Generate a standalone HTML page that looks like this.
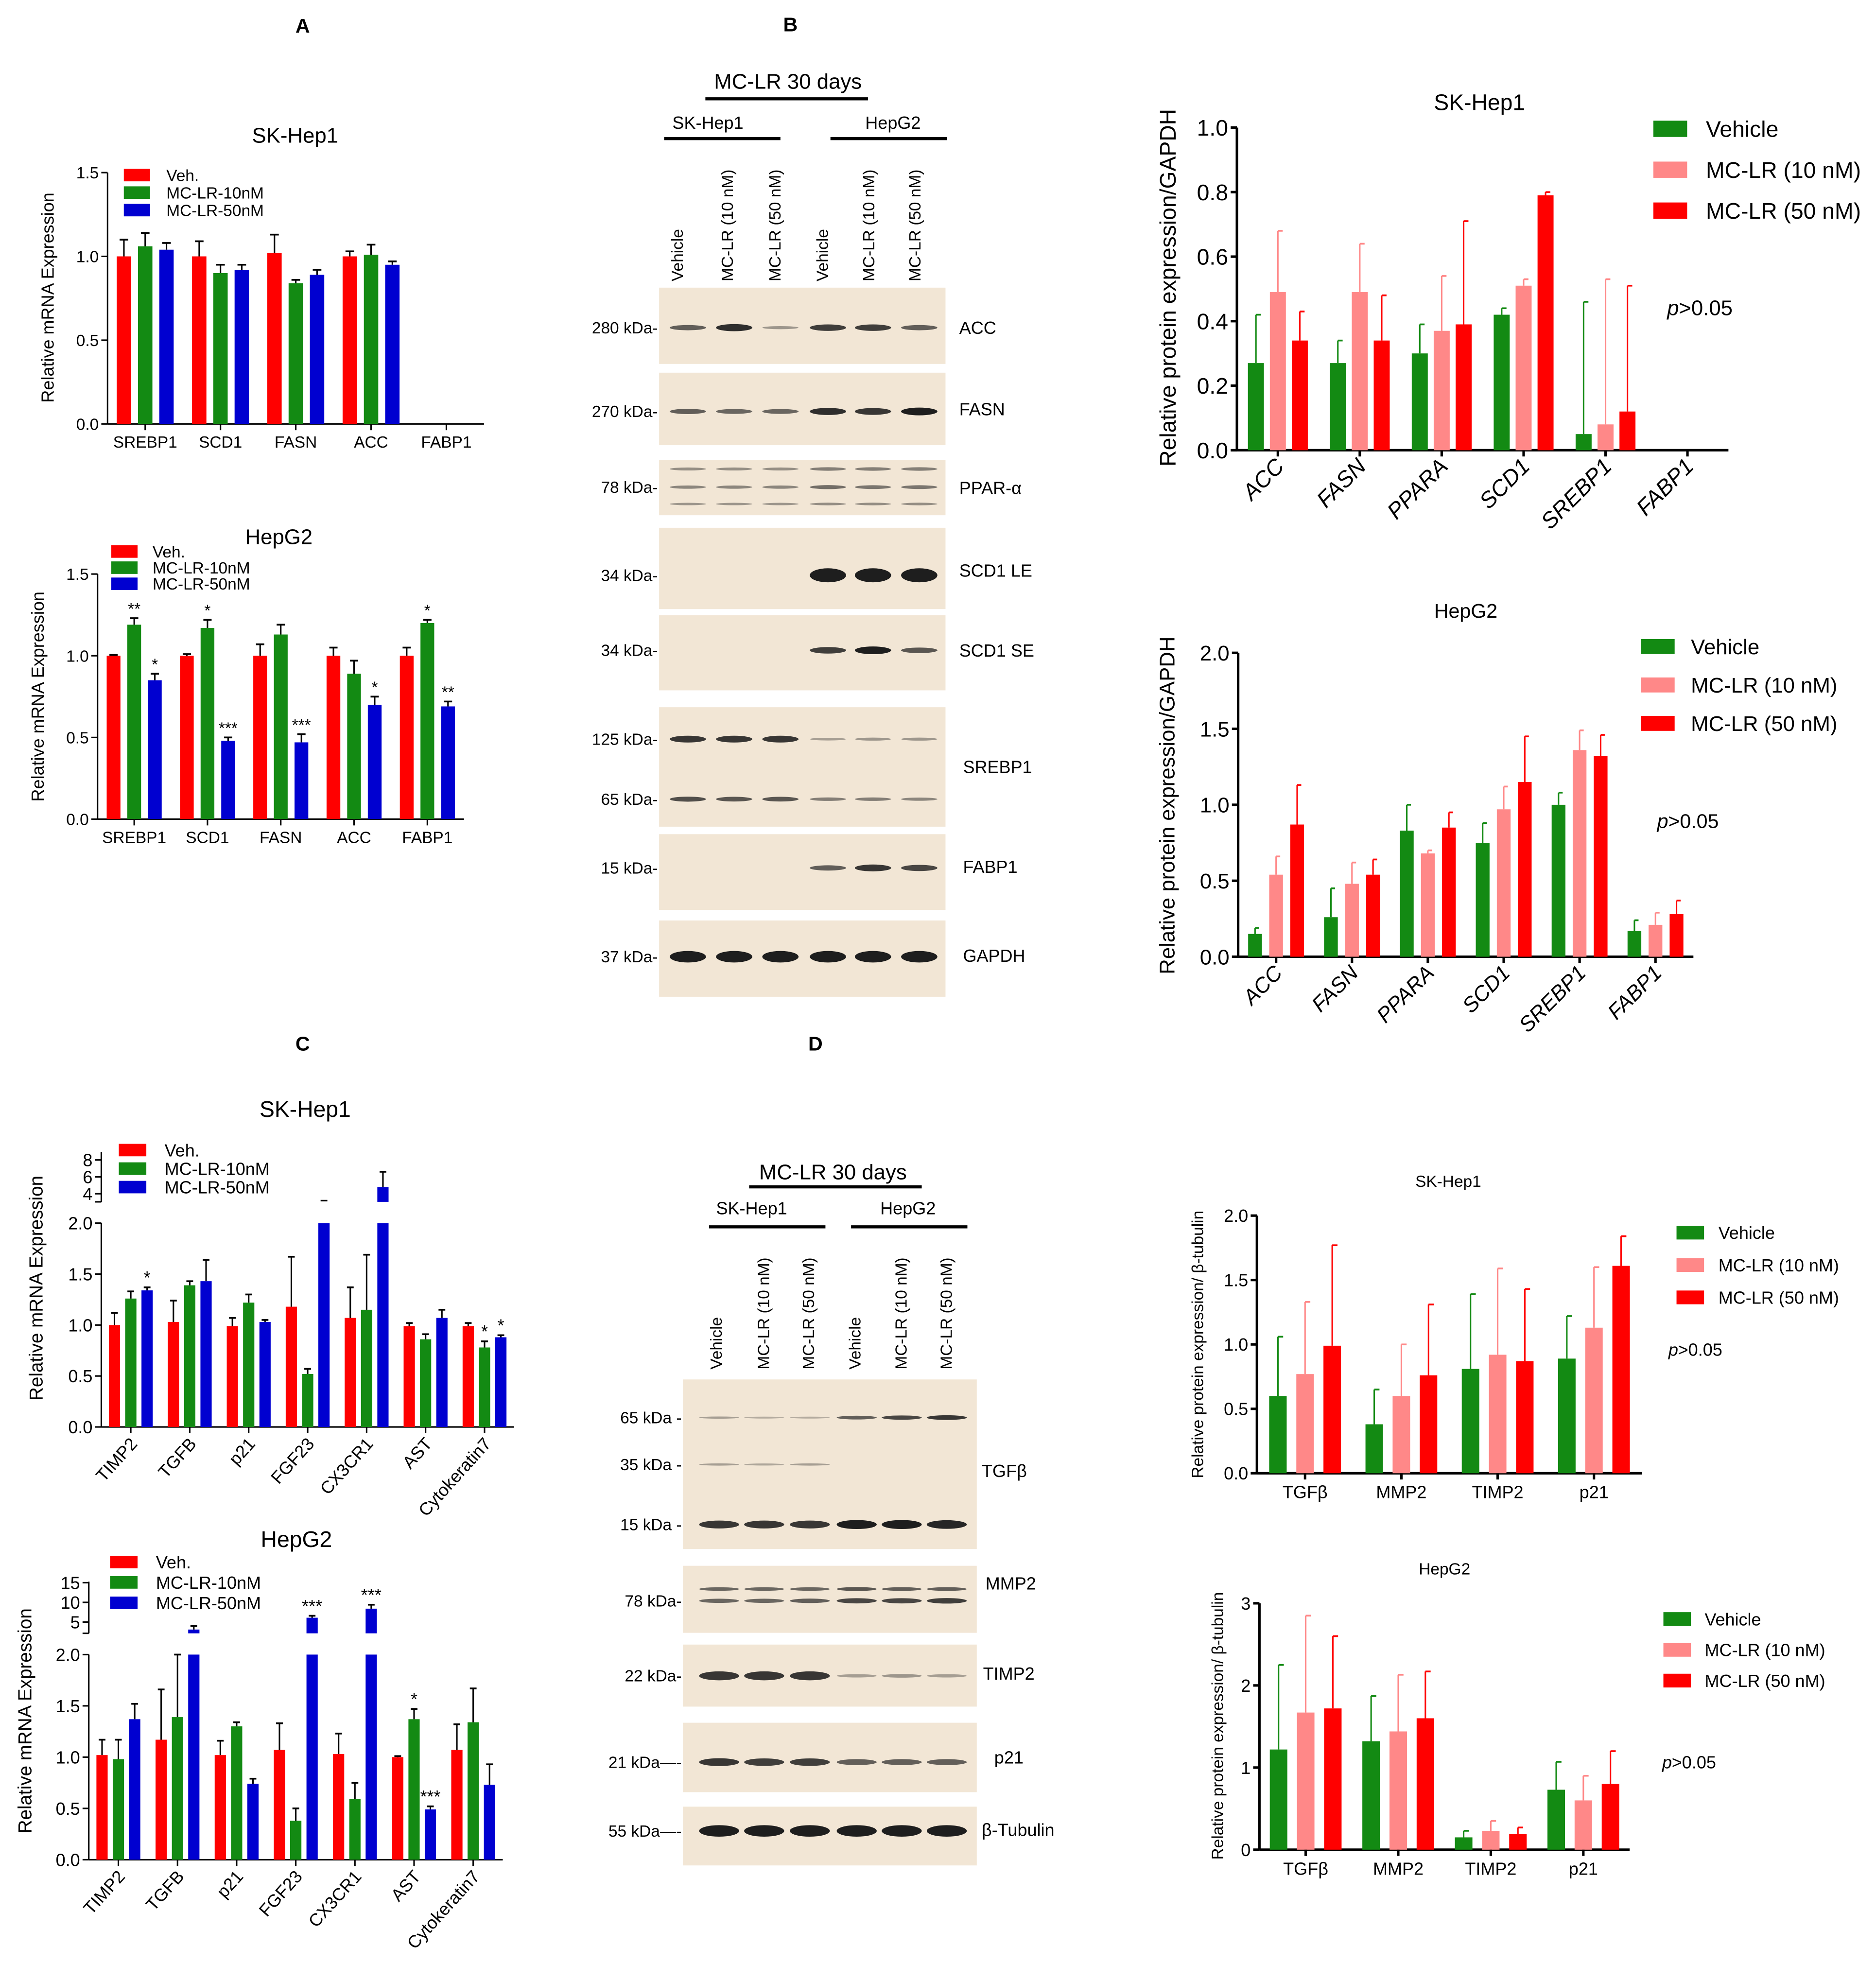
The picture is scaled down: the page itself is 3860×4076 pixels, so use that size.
<!DOCTYPE html>
<html><head><meta charset="utf-8">
<style>
html,body{margin:0;padding:0;background:#fff;}
svg{display:block;font-family:"Liberation Sans",sans-serif;}
</style></head>
<body>
<svg id="fig" width="3860" height="4076" viewBox="0 0 1500 1584" preserveAspectRatio="none" xmlns="http://www.w3.org/2000/svg">
<rect width="1500" height="1584" fill="#fff"/>
<g font-weight="bold" font-size="16">
<text x="242" y="26" text-anchor="middle">A</text>
<text x="632" y="25" text-anchor="middle">B</text>
<text x="242" y="840" text-anchor="middle">C</text>
<text x="652" y="840" text-anchor="middle">D</text>
</g>
<g id="charts"></g>
<g id="blots"></g>
</svg>
<script>
// ---- data ----
const catsA1=["SREBP1","SCD1","FASN","ACC","FABP1"];
const a1Veh=[1.0,1.0,1.02,1.0,0];
const a1M10=[1.06,0.9,0.84,1.01,0];
const a1M50=[1.04,0.92,0.89,0.95,0];
const a1VehErr=[0.1,0.09,0.11,0.03,0];
const a1M10Err=[0.08,0.05,0.02,0.06,0];
const a1M50Err=[0.04,0.03,0.03,0.02,0];
const catsA2=["SREBP1","SCD1","FASN","ACC","FABP1"];
const a2Veh=[1.0,1.0,1.0,1.0,1.0];
const a2M10=[1.19,1.17,1.13,0.89,1.2];
const a2M50=[0.85,0.48,0.47,0.7,0.69];
const a2VehErr=[0.005,0.01,0.07,0.05,0.05];
const a2M10Err=[0.04,0.05,0.06,0.08,0.02];
const a2M50Err=[0.04,0.02,0.05,0.05,0.03];
const a2Stars10=["**","*","","","*"];
const a2Stars50=["*","***","***","*","**"];
const catsB=["ACC","FASN","PPARA","SCD1","SREBP1","FABP1"];
const b1Veh=[0.27,0.27,0.3,0.42,0.05,0];
const b1M10=[0.49,0.49,0.37,0.51,0.08,0];
const b1M50=[0.34,0.34,0.39,0.79,0.12,0];
const b1VehErr=[0.15,0.07,0.09,0.02,0.41,0];
const b1M10Err=[0.19,0.15,0.17,0.02,0.45,0];
const b1M50Err=[0.09,0.14,0.32,0.01,0.39,0];
const b2Veh=[0.15,0.26,0.83,0.75,1.0,0.17];
const b2M10=[0.54,0.48,0.68,0.97,1.36,0.21];
const b2M50=[0.87,0.54,0.85,1.15,1.32,0.28];
const b2VehErr=[0.04,0.19,0.17,0.13,0.08,0.07];
const b2M10Err=[0.12,0.14,0.02,0.15,0.13,0.08];
const b2M50Err=[0.26,0.1,0.1,0.3,0.14,0.09];
const catsC=["TIMP2","TGFB","p21","FGF23","CX3CR1","AST","Cytokeratin7"];
const c1Veh=[1.0,1.03,0.99,1.18,1.07,0.99,0.99];
const c1M10=[1.26,1.39,1.22,0.52,1.15,0.86,0.78];
const c1M50=[1.34,1.43,1.03,2.5,4.8,1.07,0.88];
const c1VehErr=[0.12,0.21,0.08,0.49,0.3,0.03,0.03];
const c1M10Err=[0.07,0.04,0.08,0.05,0.54,0.05,0.06];
const c1M50Err=[0.03,0.21,0.02,0,1.8,0.08,0.02];
const c2Veh=[1.02,1.17,1.02,1.07,1.03,1.0,1.07];
const c2M10=[0.98,1.39,1.3,0.38,0.59,1.37,1.34];
const c2M50=[1.37,3.1,0.74,6.1,8.4,0.49,0.73];
const c2VehErr=[0.15,0.49,0.14,0.26,0.2,0.01,0.25];
const c2M10Err=[0.19,0.65,0.04,0.12,0.16,0.1,0.33];
const c2M50Err=[0.15,0.9,0.05,0.5,1.0,0.03,0.2];
const catsD=["TGFβ","MMP2","TIMP2","p21"];
const d1Veh=[0.6,0.38,0.81,0.89];
const d1M10=[0.77,0.6,0.92,1.13];
const d1M50=[0.99,0.76,0.87,1.61];
const d1VehErr=[0.46,0.27,0.58,0.33];
const d1M10Err=[0.56,0.4,0.67,0.47];
const d1M50Err=[0.78,0.55,0.56,0.23];
const d2Veh=[1.22,1.32,0.15,0.73];
const d2M10=[1.67,1.44,0.23,0.6];
const d2M50=[1.72,1.6,0.19,0.8];
const d2VehErr=[1.03,0.55,0.08,0.34];
const d2M10Err=[1.18,0.69,0.12,0.3];
const d2M50Err=[0.88,0.57,0.08,0.4];

const NS="http://www.w3.org/2000/svg";
const root=document.getElementById('charts');
function el(tag,attrs,parent,text){const e=document.createElementNS(NS,tag);for(const k in attrs)e.setAttribute(k,attrs[k]);if(text!==undefined)e.textContent=text;(parent||root).appendChild(e);return e;}

function chart(o){
  const g=el('g',{});
  
  
  const y=v=>o.y0-(v/o.ymax)*(o.y0-o.ytop);
  const aw=o.aw||1.5;
  el('line',{x1:o.x0,y1:o.ytop,x2:o.x0,y2:o.y0,stroke:'#000','stroke-width':aw},g);
  el('line',{x1:o.x0,y1:o.y0,x2:o.x1,y2:o.y0,stroke:'#000','stroke-width':aw},g);
  o.ticks.forEach(t=>{
    el('line',{x1:o.x0-5,y1:y(t),x2:o.x0,y2:y(t),stroke:'#000','stroke-width':aw},g);
    const tx=el('text',{x:o.x0-7,y:y(t)+o.fs*0.36,'font-size':o.fs,'text-anchor':'end'},g,o.tickFmt?o.tickFmt(t):t.toFixed(1));
    
    
  });
  if(o.upper){
    const u=o.upper;const uy=v=>u.yb-(v-u.vmin)/(u.vmax-u.vmin)*(u.yb-u.yt);
    el('line',{x1:o.x0,y1:u.yt,x2:o.x0,y2:u.yb,stroke:'#000','stroke-width':aw},g);
    el('line',{x1:o.x0-5,y1:u.yb,x2:o.x0,y2:u.yb,stroke:'#000','stroke-width':aw},g);
    u.ticks.forEach(t=>{el('line',{x1:o.x0-5,y1:uy(t),x2:o.x0,y2:uy(t),stroke:'#000','stroke-width':aw},g);
      el('text',{x:o.x0-7,y:uy(t)+o.fs*0.36,'font-size':o.fs,'text-anchor':'end'},g,String(t));});
    o.uy=uy;
  }
  const yl=el('text',{transform:`translate(${o.ylx},${o.yly}) rotate(-90)`,'font-size':o.ylfs||o.fs+1,'text-anchor':'middle'},g,o.ylabel);
  
  
  const t=el('text',{x:o.tx,y:o.ty,'font-size':o.tfs,'text-anchor':'middle'},g,o.title);
  
  
  const n=o.cats.length, step=(o.x1-o.x0)/n;
  o.series.forEach((s,si)=>{
    s.vals.forEach((v,i)=>{
      const cx=o.x0+step*(i+0.5)+(si-1)*o.bw*o.gap;
      const vc=Math.min(v,o.ymax);
      if(v<=0)return;
      const r=el('rect',{x:cx-o.bw/2,y:y(vc),width:o.bw,height:o.y0-y(vc),fill:s.color},g);
      
      
      let top=y(vc);
      const e=s.errs?s.errs[i]:0;
      let et;
      if(o.upper && v>o.ymax){
        if(v>o.upper.vmin){const ut=o.uy(v);el('rect',{x:cx-o.bw/2,y:ut,width:o.bw,height:o.upper.yb-ut,fill:s.color},g);top=ut;et=o.uy(Math.min(v+e,o.upper.vmax));}
        else{const my=o.upper.yb-1;el('line',{x1:cx-o.bw*0.3,y1:my,x2:cx+o.bw*0.3,y2:my,stroke:'#000','stroke-width':1.2},g);et=top;}
      } else et=y(Math.min(v+e,o.ymax));
      if(e>0){
        el('line',{x1:cx,y1:top,x2:cx,y2:et,stroke:o.errBlack?'#000':s.color,'stroke-width':1.2},g);
        el('line',{x1:cx-(o.halfCap?0:o.bw*0.3),y1:et,x2:cx+o.bw*0.3,y2:et,stroke:o.errBlack?'#000':s.color,'stroke-width':1.4},g);
      }
      if(s.stars&&s.stars[i]) el('text',{x:cx,y:Math.min(et,top)-3,'font-size':o.fs,'text-anchor':'middle'},g,s.stars[i]);
    });
  });
  o.cats.forEach((c,i)=>{
    const cx=o.x0+step*(i+0.5);
    el('line',{x1:cx,y1:o.y0,x2:cx,y2:o.y0+5,stroke:'#000','stroke-width':aw},g);
    let tx;
    if(o.rot) tx=el('text',{transform:`translate(${cx+6},${o.y0+14}) rotate(-${o.rot})`,'font-size':o.cfs||o.fs,'text-anchor':'end','font-style':o.italic?'italic':'normal'},g,c);
    else tx=el('text',{x:cx,y:o.y0+o.fs+6,'font-size':o.cfs||o.fs,'text-anchor':'middle'},g,c);
    
    
  });
  o.series.forEach((s,si)=>{
    const ly=o.ly+si*o.lstep;
    el('rect',{x:o.lx,y:ly-o.lh/2,width:o.lw,height:o.lh,fill:s.color},g);
    const lt=el('text',{x:o.ltx,y:ly+o.lfs*0.36,'font-size':o.lfs},g,s.label);
    
    
  });
  if(o.p){el('text',{x:o.p[0],y:o.p[1],'font-size':o.p[2],'font-style':'italic'},g,'p');
    el('text',{x:o.p[0]+o.p[2]*0.55,y:o.p[1],'font-size':o.p[2]},g,'>0.05');}
}
const R='#f00',G='#138a13',B='#0000d0',P='#f88';
const mr=["Veh.","MC-LR-10nM","MC-LR-50nM"], pr=["Vehicle","MC-LR (10 nM)","MC-LR (50 nM)"];
chart({name:'chart-a-skhep1',x0:86,x1:387,y0:339,ytop:138,ymax:1.5,ticks:[0,0.5,1,1.5],fs:13,bw:11.5,gap:1.48,aw:1.2,errBlack:true,
 cats:catsA1,series:[{key:'veh',label:mr[0],color:R,vals:a1Veh,errs:a1VehErr},{key:'10nm',label:mr[1],color:G,vals:a1M10,errs:a1M10Err},{key:'50nm',label:mr[2],color:B,vals:a1M50,errs:a1M50Err}],
 ylabel:'Relative mRNA Expression',ylx:43,yly:238,ylfs:14,title:'SK-Hep1',tx:236,ty:114,tfs:17,lx:99,ltx:133,ly:140,lstep:14,lw:21,lh:10,lfs:13});
chart({name:'chart-a-hepg2',x0:78,x1:371,y0:655,ytop:459,ymax:1.5,ticks:[0,0.5,1,1.5],fs:13,bw:11,gap:1.5,aw:1.2,errBlack:true,
 cats:catsA2,series:[{key:'veh',label:mr[0],color:R,vals:a2Veh,errs:a2VehErr},{key:'10nm',label:mr[1],color:G,vals:a2M10,errs:a2M10Err,stars:a2Stars10},{key:'50nm',label:mr[2],color:B,vals:a2M50,errs:a2M50Err,stars:a2Stars50}],
 ylabel:'Relative mRNA Expression',ylx:35,yly:557,ylfs:14,title:'HepG2',tx:223,ty:435,tfs:17,lx:89,ltx:122,ly:441,lstep:12.9,lw:21,lh:10,lfs:13});
chart({name:'chart-b-skhep1-protein',x0:989,x1:1382,y0:360,ytop:102,ymax:1.0,ticks:[0,0.2,0.4,0.6,0.8,1.0],fs:18,bw:12.8,gap:1.37,rot:45,cfs:18,italic:true,aw:2,
 cats:catsB,series:[{key:'veh',label:pr[0],color:G,vals:b1Veh,errs:b1VehErr},{key:'10nm',label:pr[1],color:P,vals:b1M10,errs:b1M10Err},{key:'50nm',label:pr[2],color:R,vals:b1M50,errs:b1M50Err}],
 ylabel:'Relative protein expression/GAPDH',ylx:940,yly:230,ylfs:18,title:'SK-Hep1',tx:1183,ty:88,tfs:18,lx:1322,ltx:1364,ly:103,lstep:32.7,lw:27,lh:13,lfs:18,halfCap:true,p:[1333,252,17]});
chart({name:'chart-b-hepg2-protein',x0:990,x1:1354,y0:765,ytop:522,ymax:2.0,ticks:[0,0.5,1,1.5,2],fs:17,bw:11,gap:1.53,rot:45,cfs:17,italic:true,aw:2,
 cats:catsB,series:[{key:'veh',label:pr[0],color:G,vals:b2Veh,errs:b2VehErr},{key:'10nm',label:pr[1],color:P,vals:b2M10,errs:b2M10Err},{key:'50nm',label:pr[2],color:R,vals:b2M50,errs:b2M50Err}],
 ylabel:'Relative protein expression/GAPDH',ylx:939,yly:644,ylfs:17,title:'HepG2',tx:1172,ty:494,tfs:16,lx:1312,ltx:1352,ly:517,lstep:30.7,lw:27,lh:12,lfs:17,halfCap:true,tickFmt:t=>t.toFixed(1),p:[1325,662,16]});
chart({name:'chart-c-skhep1',x0:81,x1:411,y0:1141,ytop:978,ymax:2.0,ticks:[0,0.5,1,1.5,2],fs:14,bw:9,gap:1.45,rot:48,cfs:14,aw:1.2,errBlack:true,
 cats:catsC,series:[{key:'veh',label:mr[0],color:R,vals:c1Veh,errs:c1VehErr},{key:'10nm',label:mr[1],color:G,vals:c1M10,errs:c1M10Err,stars:["","","","","","","*"]},{key:'50nm',label:mr[2],color:B,vals:c1M50,errs:c1M50Err,stars:["*","","","","","","*"]}],
 upper:{yt:921,yb:961,vmin:3.04,vmax:8.96,ticks:[4,6,8]},
 ylabel:'Relative mRNA Expression',ylx:34,yly:1030,ylfs:15,title:'SK-Hep1',tx:244,ty:893,tfs:18,lx:95,ltx:131.6,ly:919.6,lstep:14.8,lw:22,lh:10,lfs:14});
chart({name:'chart-c-hepg2',x0:71,x1:402,y0:1487,ytop:1323,ymax:2.0,ticks:[0,0.5,1,1.5,2],fs:14,bw:9,gap:1.45,rot:48,cfs:14,aw:1.2,errBlack:true,
 cats:catsC,series:[{key:'veh',label:mr[0],color:R,vals:c2Veh,errs:c2VehErr},{key:'10nm',label:mr[1],color:G,vals:c2M10,errs:c2M10Err,stars:["","","","","","*",""]},{key:'50nm',label:mr[2],color:B,vals:c2M50,errs:c2M50Err,stars:["","","","***","***","***",""]}],
 upper:{yt:1264.7,yb:1306,vmin:2.14,vmax:15.25,ticks:[5,10,15]},
 ylabel:'Relative mRNA Expression',ylx:25,yly:1376,ylfs:15,title:'HepG2',tx:237,ty:1237,tfs:18,lx:88,ltx:124.7,ly:1249,lstep:16.3,lw:22,lh:10,lfs:14});
chart({name:'chart-d-skhep1-protein',x0:1005,x1:1313,y0:1178,ytop:972,ymax:2.0,ticks:[0,0.5,1,1.5,2],fs:14,bw:14,gap:1.55,aw:2,
 cats:catsD,series:[{key:'veh',label:pr[0],color:G,vals:d1Veh,errs:d1VehErr},{key:'10nm',label:pr[1],color:P,vals:d1M10,errs:d1M10Err},{key:'50nm',label:pr[2],color:R,vals:d1M50,errs:d1M50Err}],
 ylabel:'Relative protein expression/ β-tubulin',ylx:962,yly:1075,ylfs:13,title:'SK-Hep1',tx:1158,ty:949,tfs:13,lx:1340.5,ltx:1374,ly:985.6,lstep:25.9,lw:22,lh:11,lfs:14,halfCap:true,p:[1334,1084,14]});
chart({name:'chart-d-hepg2-protein',x0:1007,x1:1303,y0:1479,ytop:1282,ymax:3,ticks:[0,1,2,3],fs:14,bw:14,gap:1.55,tickFmt:t=>String(t),aw:2,
 cats:catsD,series:[{key:'veh',label:pr[0],color:G,vals:d2Veh,errs:d2VehErr},{key:'10nm',label:pr[1],color:P,vals:d2M10,errs:d2M10Err},{key:'50nm',label:pr[2],color:R,vals:d2M50,errs:d2M50Err}],
 ylabel:'Relative protein expression/ β-tubulin',ylx:978,yly:1380,ylfs:13,title:'HepG2',tx:1155,ty:1259,tfs:13,lx:1330,ltx:1363,ly:1294.6,lstep:24.6,lw:22,lh:11,lfs:14,halfCap:true,p:[1329,1414,14]});

// ---- blots ----
const bl=document.getElementById('blots');
function blot(name,x,y,w,h,lanes,bands,label,lx,ly,rx){
  const g=el('g',{},bl);
  
  
  el('rect',{x:x,y:y,width:w,height:h,fill:'#f2e6d5'},g);
  bands.forEach(b=>{lanes.forEach((lc,i)=>{const s=b.s[i];if(s<=0)return;
    el('ellipse',{cx:lc,cy:b.y,rx:rx,ry:b.h*s/2+0.6,fill:'#1e1e1e','fill-opacity':Math.min(1,0.2+0.8*s)},g);});
    if(b.mw){el('text',{x:x-1,y:b.y+4.5,'font-size':13,'text-anchor':'end'},g,b.mw+'-');}
  });
  el('text',{x:lx,y:ly+5,'font-size':14},g,label);
}
const lB=[550,587,624,662,698,735];
blot('blot-acc',527,230,229,61,lB,[{y:262,h:5,s:[0.6,0.9,0.25,0.8,0.8,0.6],mw:'280 kDa'}],'ACC',767,262,14.5);
blot('blot-fasn',527,298,229,58,lB,[{y:329,h:5,s:[0.6,0.55,0.55,0.9,0.85,1],mw:'270 kDa'}],'FASN',767,327,14.5);
blot('blot-ppar',527,368,229,44,lB,[{y:375,h:4,s:[0.3,0.3,0.3,0.4,0.4,0.4]},{y:389.5,h:4,s:[0.35,0.35,0.35,0.5,0.45,0.45],mw:'78 kDa'},{y:403,h:3,s:[0.25,0.25,0.25,0.3,0.3,0.3]}],'PPAR-α',767,390,14.5);
blot('blot-scd1-le',527,422,229,65,lB,[{y:460,h:10,s:[0,0,0,1,1,1],mw:'34 kDa'}],'SCD1 LE',767,456,14.5);
blot('blot-scd1-se',527,492,229,60,lB,[{y:520,h:5,s:[0,0,0,0.8,1,0.65],mw:'34 kDa'}],'SCD1 SE',767,520,14.5);
blot('blot-srebp1',527,565.5,229,95.5,lB,[{y:591,h:5,s:[0.85,0.85,0.85,0.2,0.25,0.25],mw:'125 kDa'},{y:639,h:4,s:[0.7,0.65,0.65,0.4,0.4,0.35],mw:'65 kDa'}],'SREBP1',770,613,14.5);
blot('blot-fabp1',527,667,229,60.5,lB,[{y:694,h:5,s:[0,0,0,0.6,0.85,0.75],mw:'15 kDa'}],'FABP1',770,693,14.5);
blot('blot-gapdh',527,736,229,61,lB,[{y:765,h:8,s:[1,1,1,1,1,1],mw:'37 kDa'}],'GAPDH',770,764,14.5);
const lD=[575,611,647.5,685,721,757];
blot('blot-tgfb',546,1103,235,135.6,lD,[{y:1133.5,h:3,s:[0.2,0.12,0.12,0.6,0.75,0.85],mw:'65 kDa '},{y:1171,h:3,s:[0.2,0.15,0.2,0,0,0],mw:'35 kDa '},{y:1219,h:6,s:[0.85,0.85,0.85,1,1,0.95],mw:'15 kDa '}],'TGFβ',785,1176,16);
blot('blot-mmp2',546,1252,235,53.6,lD,[{y:1270.6,h:3,s:[0.55,0.55,0.55,0.65,0.6,0.6]},{y:1280,h:4,s:[0.55,0.55,0.6,0.75,0.75,0.8],mw:'78 kDa'}],'MMP2',788,1266,16);
blot('blot-timp2',546,1315,235,49.6,lD,[{y:1340,h:7,s:[0.85,0.85,0.85,0.2,0.25,0.2],mw:'22 kDa'}],'TIMP2',786,1338,16);
blot('blot-p21',546,1377.5,235,55.5,lD,[{y:1409,h:6,s:[0.85,0.8,0.8,0.6,0.6,0.6],mw:'21 kDa—'}],'p21',795,1405,16);
blot('blot-b-tubulin',546,1444.6,235,47,lD,[{y:1464,h:8,s:[1,1,1,1,1,1],mw:'55 kDa—'}],'β-Tubulin',785,1463,16);

function header(h){
  const t=el('text',{x:h.tx,y:h.ty,'font-size':17,'text-anchor':'middle'},bl,'MC-LR  30 days');
  
  
  el('line',{x1:h.ul[0],y1:h.ul[2],x2:h.ul[1],y2:h.ul[2],stroke:'#000','stroke-width':2.5},bl);
  el('text',{x:h.s[0],y:h.s[1],'font-size':14,'text-anchor':'middle'},bl,'SK-Hep1');
  el('text',{x:h.hg[0],y:h.s[1],'font-size':14,'text-anchor':'middle'},bl,'HepG2');
  el('line',{x1:h.sl[0],y1:h.sl[2],x2:h.sl[1],y2:h.sl[2],stroke:'#000','stroke-width':2.5},bl);
  el('line',{x1:h.hl[0],y1:h.sl[2],x2:h.hl[1],y2:h.sl[2],stroke:'#000','stroke-width':2.5},bl);
  const names=["Vehicle","MC-LR (10 nM)","MC-LR (50 nM)","Vehicle","MC-LR (10 nM)","MC-LR (50 nM)"];
  h.lanes.forEach((lc,i)=>{const t=el('text',{transform:`translate(${lc+5},${h.lblY}) rotate(-90)`,'font-size':13},bl,names[i]);
    
    });
}
header({tx:630,ty:71,ul:[564,694,79],s:[566,103],hg:[714,103],sl:[531,624,110.8],hl:[664,757],lanes:[541,581,619,657,694,731],lblY:225});
header({tx:666,ty:943,ul:[599,737,949],s:[601,971],hg:[726,971],sl:[567,660,981],hl:[680.5,773.5],lanes:[572,610,646,683,720,756],lblY:1095});
</script>
</body></html>
